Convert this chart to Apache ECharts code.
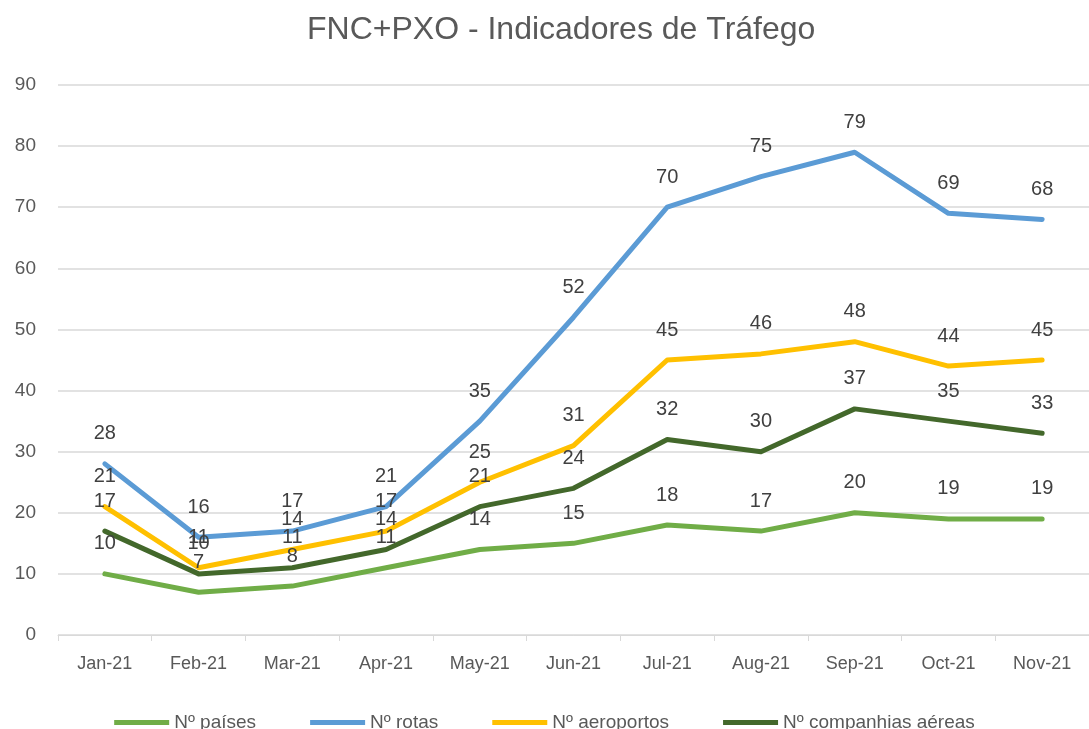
<!DOCTYPE html>
<html>
<head>
<meta charset="utf-8">
<script src="https://cdn.jsdelivr.net/npm/echarts@6/dist/echarts.min.js"></script>
<style>
    html, body { margin: 0; padding: 0; background: #fff; }
    #chart { width: 1089px; height: 729px; }
</style>
</head>
<body>
<div id="chart"></div>
<script>
// categories and series values
var months = ["Jan-21", "Feb-21", "Mar-21", "Apr-21", "May-21", "Jun-21", "Jul-21", "Aug-21", "Sep-21", "Oct-21", "Nov-21"];
var paises = [10, 7, 8, 11, 14, 15, 18, 17, 20, 19, 19];
var rotas = [28, 16, 17, 21, 35, 52, 70, 75, 79, 69, 68];
var aeroportos = [21, 11, 14, 17, 25, 31, 45, 46, 48, 44, 45];
var companhias = [17, 10, 11, 14, 21, 24, 32, 30, 37, 35, 33];

var font = "'Liberation Sans Narrow', 'Liberation Sans', sans-serif";

function lineSeries(name, data, color) {
    return {
        name: name,
        type: "line",
        data: data,
        symbol: "circle",
        symbolSize: 0,
        showSymbol: true,
        lineStyle: { width: 5, color: color, cap: "round", join: "round" },
        itemStyle: { color: color },
        label: {
            show: true,
            position: "top",
            distance: 20,
            color: "#404040",
            fontFamily: font,
            fontSize: 20
        }
    };
}

var myChart = echarts.init(document.getElementById("chart"));
var option = {
    animation: false,
    title: {
        text: "FNC+PXO - Indicadores de Tráfego",
        left: 302,
        top: 9,
        textStyle: {
            color: "#595959",
            fontFamily: font,
            fontWeight: "normal",
            fontSize: 32
        }
    },
    legend: {
        bottom: -8,
        left: "center",
        itemWidth: 55,
        itemHeight: 5,
        itemGap: 54,
        icon: "rect",
        textStyle: { color: "#595959", fontFamily: font, fontSize: 19 },
        data: ["Nº países", "Nº rotas", "Nº aeroportos", "Nº companhias aéreas"]
    },
    grid: {
        left: 58,
        top: 85,
        width: 1039,
        bottom: 94,
        containLabel: false
    },
    xAxis: {
        type: "category",
        data: months,
        boundaryGap: true,
        axisLine: { lineStyle: { color: "#d9d9d9", width: 1 } },
        axisTick: { show: true, length: 6, lineStyle: { color: "#d9d9d9" } },
        axisLabel: { color: "#595959", fontFamily: font, fontSize: 18, margin: 20 }
    },
    yAxis: {
        type: "value",
        min: 0,
        max: 90,
        interval: 10,
        axisLine: { show: false },
        axisTick: { show: false },
        splitLine: { lineStyle: { color: "#d9d9d9", width: 1.5 } },
        axisLabel: { color: "#595959", fontFamily: "'Liberation Sans', sans-serif", fontSize: 19, margin: 22 }
    },
    series: [
        lineSeries("Nº países", paises, "#70ad47"),
        lineSeries("Nº rotas", rotas, "#5b9bd5"),
        lineSeries("Nº aeroportos", aeroportos, "#ffc000"),
        lineSeries("Nº companhias aéreas", companhias, "#43682b")
    ]
};
myChart.setOption(option);
</script>
</body>
</html>
